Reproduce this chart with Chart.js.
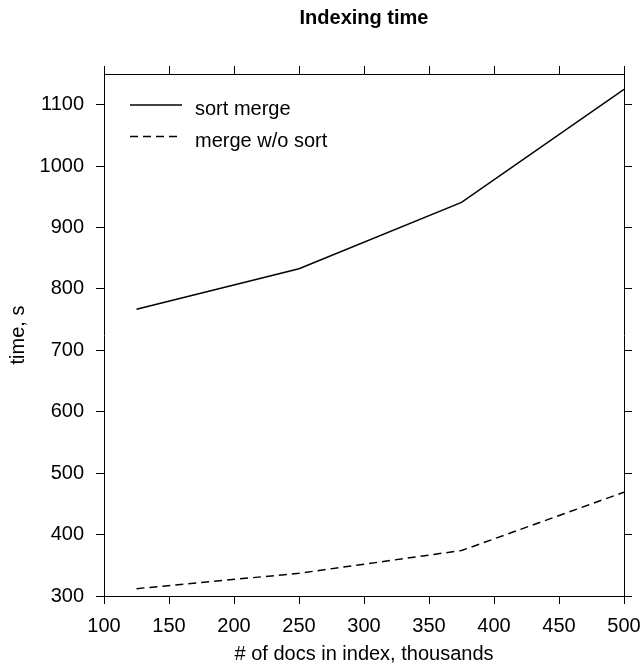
<!DOCTYPE html>
<html>
<head>
<meta charset="utf-8">
<script src="https://cdn.jsdelivr.net/npm/chart.js@4"></script>
<style>
  html, body { margin: 0; padding: 0; background: #fff; }
  #wrap { width: 643px; height: 664px; }
</style>
</head>
<body>
<div id="wrap"><canvas id="c" width="643" height="664"></canvas></div>
<script>
const docs = [125, 250, 375, 500];
const sortMerge = [767, 833, 941, 1125];
const mergeNoSort = [312, 337, 374, 469];
const seriesLabels = ['sort merge', 'merge w/o sort'];
const chartTitle = 'Indexing time';
const xTitle = '# of docs in index, thousands';
const yTitle = 'time, s';

const FONT = '"Liberation Sans", Arial, Helvetica, sans-serif';

const titlePlugin = {
  id: 'topTitle',
  afterDraw(chart) {
    const ctx = chart.ctx, a = chart.chartArea;
    ctx.save();
    ctx.fillStyle = '#000';
    ctx.font = 'bold 20px ' + FONT;
    ctx.textAlign = 'center';
    ctx.textBaseline = 'alphabetic';
    ctx.fillText(chartTitle, (a.left + a.right) / 2, 23.5);
    ctx.restore();
  }
};

const legendPlugin = {
  id: 'insideLegend',
  afterDatasetsDraw(chart) {
    const ctx = chart.ctx;
    ctx.save();
    chart.data.datasets.forEach((ds, i) => {
      const y = 105 + i * 31.5;
      ctx.beginPath();
      ctx.strokeStyle = ds.borderColor;
      ctx.lineWidth = ds.borderWidth;
      ctx.setLineDash(ds.borderDash || []);
      ctx.moveTo(130, y);
      ctx.lineTo(182, y);
      ctx.stroke();
      ctx.setLineDash([]);
      ctx.fillStyle = '#000';
      ctx.font = '20px ' + FONT;
      ctx.textAlign = 'left';
      ctx.textBaseline = 'alphabetic';
      ctx.fillText(ds.label, 195, y + 10);
    });
    ctx.restore();
  }
};

const gridOpts = { drawOnChartArea: false, color: '#000', lineWidth: 1, tickLength: 8, tickColor: '#000' };
const borderOpts = { display: true, color: '#000', width: 1 };
const noPad = (s) => { s.paddingLeft = 0; s.paddingRight = 0; s.paddingTop = 0; s.paddingBottom = 0; };

new Chart(document.getElementById('c'), {
  type: 'line',
  data: {
    datasets: [
      { label: seriesLabels[0], data: docs.map((x, i) => ({ x, y: sortMerge[i] })),
        borderColor: '#000', borderWidth: 1.5, pointRadius: 0, fill: false, tension: 0 },
      { label: seriesLabels[1], data: docs.map((x, i) => ({ x, y: mergeNoSort[i] })),
        borderColor: '#000', borderWidth: 1.5, borderDash: [8, 5], pointRadius: 0, fill: false, tension: 0 }
    ]
  },
  options: {
    responsive: false,
    animation: false,
    layout: { padding: 0 },
    plugins: { legend: { display: false }, title: { display: false }, tooltip: { enabled: false } },
    scales: {
      x: {
        type: 'linear', position: 'bottom', min: 100, max: 500,
        ticks: { stepSize: 50, color: '#000', font: { family: FONT, size: 20 }, padding: 10, maxRotation: 0,
                 callback: (v) => String(v) },
        grid: gridOpts, border: borderOpts,
        title: { display: true, text: xTitle, color: '#000', font: { family: FONT, size: 20, lineHeight: 1 }, padding: 0 },
        afterFit(s) { s.height = 68; noPad(s); }
      },
      x2: {
        type: 'linear', position: 'top', min: 100, max: 500,
        ticks: { stepSize: 50, display: false },
        grid: gridOpts, border: borderOpts,
        afterFit(s) { s.height = 74; noPad(s); }
      },
      y: {
        type: 'linear', position: 'left', min: 300, max: 1150,
        ticks: { stepSize: 100, includeBounds: false, color: '#000', font: { family: FONT, size: 20 }, padding: 12,
                 callback: (v) => String(v) },
        grid: gridOpts, border: borderOpts,
        title: { display: true, text: yTitle, color: '#000', font: { family: FONT, size: 20 }, padding: { top: 6, bottom: 0 } },
        afterFit(s) { s.width = 104; noPad(s); }
      },
      y2: {
        type: 'linear', position: 'right', min: 300, max: 1150,
        ticks: { stepSize: 100, includeBounds: false, display: false },
        grid: gridOpts, border: borderOpts,
        afterFit(s) { s.width = 19; noPad(s); }
      }
    }
  },
  plugins: [titlePlugin, legendPlugin]
});
</script>
</body>
</html>
